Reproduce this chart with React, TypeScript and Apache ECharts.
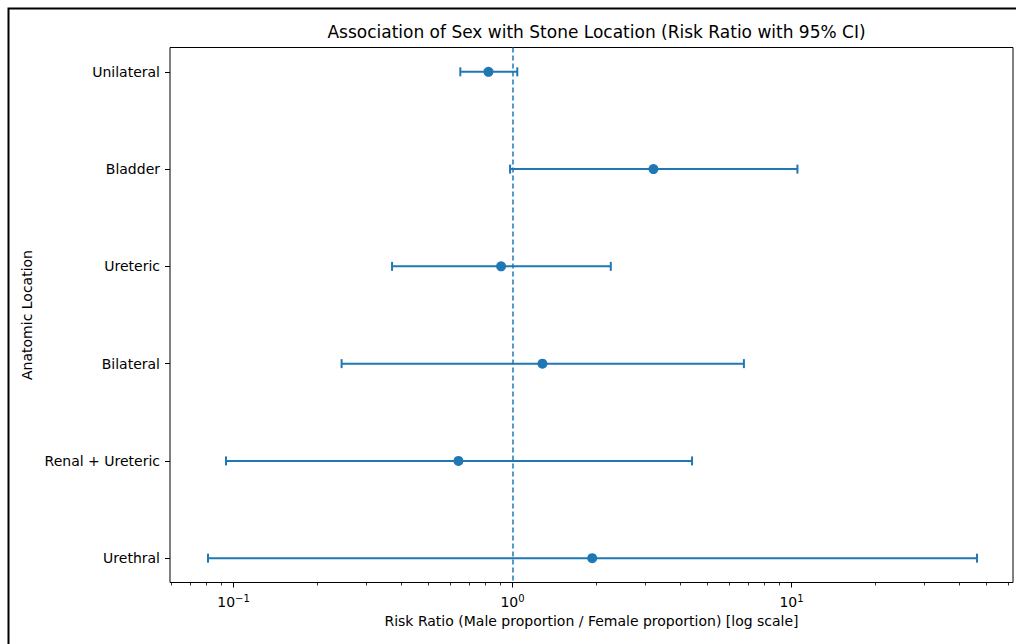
import React, { useEffect, useRef } from "react";
import * as echarts from "echarts";

const categories = ["Unilateral", "Bladder", "Ureteric", "Bilateral", "Renal + Ureteric", "Urethral"];
const riskRatio = [0.82, 3.2, 0.91, 1.28, 0.64, 1.93];
const ciLow = [0.65, 0.98, 0.37, 0.244, 0.094, 0.081];
const ciHigh = [1.04, 10.5, 2.25, 6.75, 4.4, 46.2];
const majorTicks = [0.1, 1, 10];
const minorTicks = [0.06, 0.07, 0.08, 0.09, 0.2, 0.3, 0.4, 0.5, 0.6, 0.7, 0.8, 0.9, 2, 3, 4, 5, 6, 7, 8, 9, 20, 30, 40, 50, 60];
const xMin = 0.0592;
const xMax = 62.2;
const refValue = 1;

const BLUE = "#1f77b4";
const FONT = "DejaVu Sans";

export default function App() {
  const ref = useRef<HTMLDivElement>(null);
  useEffect(() => {
    if (!ref.current) return;
    const chart = echarts.init(ref.current, undefined, { renderer: "svg" });
    const idx = categories.map((_, i) => i);
    const option: any = {
      animation: false,
      backgroundColor: "#fff",
      textStyle: { fontFamily: FONT },
      title: {
        text: "Association of Sex with Stone Location (Risk Ratio with 95% CI)",
        left: 591.5,
        top: 18,
        textAlign: "center",
        textStyle: { fontFamily: FONT, fontSize: 17, fontWeight: "normal", color: "#000" },
      },
      graphic: [
        {
          type: "rect",
          shape: { x: 8.5, y: 8.5, width: 1200, height: 800 },
          style: { fill: "none", stroke: "#000", lineWidth: 2 },
          silent: true,
        },
      ],
      grid: {
        left: 170,
        right: 3,
        top: 47.5,
        bottom: 61.5,
        show: true,
        borderColor: "#000",
        borderWidth: 1,
        backgroundColor: "transparent",
      },
      xAxis: [
        {
          type: "log",
          logBase: 10,
          min: xMin,
          max: xMax,
          position: "bottom",
          name: "Risk Ratio (Male proportion / Female proportion) [log scale]",
          nameLocation: "middle",
          nameGap: 29,
          nameTextStyle: { fontFamily: FONT, fontSize: 14, color: "#000" },
          axisLine: { show: false, onZero: false },
          splitLine: { show: false },
          minorTick: { show: false },
          axisTick: { show: true, customValues: majorTicks, length: 5, lineStyle: { color: "#000", width: 1 } },
          axisLabel: {
            customValues: majorTicks,
            margin: 11,
            color: "#000",
            fontFamily: FONT,
            fontSize: 14,
            formatter: (v: number) => {
              const e = Math.round(Math.log10(v));
              return "{b|10}{s|" + (e < 0 ? "\u2212" : "") + Math.abs(e) + "}";
            },
            rich: {
              b: { fontFamily: FONT, fontSize: 14, color: "#000" },
              s: { fontFamily: FONT, fontSize: 10, color: "#000", padding: [0, 0, 7, 0] },
            },
          },
        },
        {
          type: "log",
          logBase: 10,
          min: xMin,
          max: xMax,
          position: "bottom",
          axisLine: { show: false, onZero: false },
          splitLine: { show: false },
          axisLabel: { show: false },
          axisTick: { show: true, customValues: minorTicks, length: 3, lineStyle: { color: "#000", width: 0.8 } },
        },
      ],
      yAxis: {
        type: "value",
        inverse: true,
        min: -0.25,
        max: 5.25,
        name: "Anatomic Location",
        nameLocation: "middle",
        nameGap: 133,
        nameRotate: 90,
        nameTextStyle: { fontFamily: FONT, fontSize: 14, color: "#000" },
        axisLine: { show: false, onZero: false },
        splitLine: { show: false },
        axisTick: { show: true, customValues: idx, length: 5, lineStyle: { color: "#000", width: 1 } },
        axisLabel: {
          customValues: idx,
          margin: 10,
          color: "#000",
          fontFamily: FONT,
          fontSize: 14,
          formatter: (v: number) => categories[Math.round(v)] ?? "",
        },
      },
      series: [
        {
          type: "custom",
          xAxisIndex: 0,
          yAxisIndex: 0,
          data: idx.map((i) => [ciLow[i], ciHigh[i], i]),
          encode: { x: [0, 1], y: 2 },
          renderItem: (params: any, api: any) => {
            const lo = api.coord([api.value(0), api.value(2)]);
            const hi = api.coord([api.value(1), api.value(2)]);
            const h = 4.5;
            const style = { stroke: BLUE, lineWidth: 2, fill: "none" };
            return {
              type: "group",
              children: [
                { type: "line", shape: { x1: lo[0], y1: lo[1], x2: hi[0], y2: hi[1] }, style },
                { type: "line", shape: { x1: lo[0], y1: lo[1] - h, x2: lo[0], y2: lo[1] + h }, style },
                { type: "line", shape: { x1: hi[0], y1: hi[1] - h, x2: hi[0], y2: hi[1] + h }, style },
              ],
            };
          },
          z: 2,
        },
        {
          type: "scatter",
          xAxisIndex: 0,
          yAxisIndex: 0,
          data: idx.map((i) => [riskRatio[i], i]),
          symbol: "circle",
          symbolSize: 10,
          itemStyle: { color: BLUE, opacity: 1 },
          z: 3,
          markLine: {
            silent: true,
            symbol: "none",
            label: { show: false },
            lineStyle: { color: BLUE, width: 1.5, type: [5, 3], opacity: 1 },
            data: [{ xAxis: refValue }],
          },
        },
      ],
    };
    chart.setOption(option);
    return () => chart.dispose();
  }, []);
  return (
    <div
      ref={ref}
      style={{ position: "absolute", left: 0, top: 0, width: 1016, height: 644, background: "#fff" }}
    />
  );
}
